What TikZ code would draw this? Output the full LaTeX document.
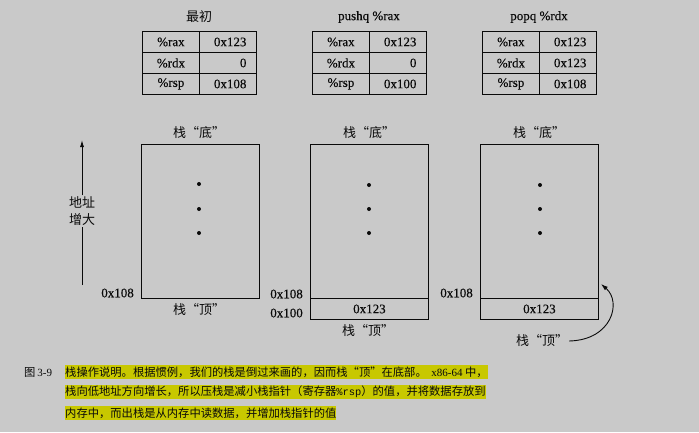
\documentclass[tikz,border=0pt]{standalone}
\usepackage{fontspec}
\setmainfont{Liberation Serif}[FakeBold=0.3]
\setmonofont{Liberation Mono}
\newfontfamily\plainrm{Liberation Serif}
\newfontfamily\cjk{Noto Sans CJK SC}
\usetikzlibrary{arrows.meta}
\definecolor{bg}{RGB}{201,201,201}
\definecolor{hl}{RGB}{200,200,0}
\definecolor{ink}{RGB}{10,10,10}
\tikzset{
  every node/.style={text=ink},
  txt/.style={font=\fontsize{13}{15}\selectfont, inner sep=1pt},
  cjklab/.style={font=\cjk\fontsize{13}{17}\selectfont, inner sep=1pt},
  cellk/.style={draw=ink, line width=0.9pt, minimum width=57pt, minimum height=21pt,
    inner sep=0pt, anchor=north west, font=\fontsize{13}{15}\selectfont},
  cellv/.style={draw=ink, line width=0.9pt, text width=37pt, inner xsep=10pt, inner ysep=0pt,
    minimum height=21pt, align=right, anchor=north west, font=\fontsize{13}{15}\selectfont},
  stackbox/.style={draw=ink, line width=0.9pt, minimum width=118pt, minimum height=154pt,
    inner sep=0pt, anchor=north west},
  stackcell/.style={draw=ink, line width=0.9pt, minimum width=118pt, minimum height=21pt,
    inner sep=0pt, anchor=north west, font=\fontsize{13}{15}\selectfont},
  dotmark/.style={circle, fill=ink, inner sep=0pt, minimum size=4pt},
  capline/.style={anchor=west, fill=hl, inner xsep=0pt, inner ysep=1.5pt,
    font=\cjk\fontsize{11.3}{13}\selectfont},
  conn/.style={draw=ink, line width=0.9pt},
}
\begin{document}
\begin{tikzpicture}[x=1pt,y=-1pt]
\fill[bg] (0,0) rectangle (699,432);
\useasboundingbox (0,0) rectangle (699,432);

% register tables
\node[cjklab] (h1) at (199,17) {最初};
\node[txt] (h2) at (369,17) {pushq \%rax};
\node[txt] (h3) at (539,17) {popq \%rdx};
\foreach \n/\x/\a/\b/\c in {1/142/0x123/0/0x108, 2/312/0x123/0/0x100, 3/482/0x123/0x123/0x108}{
  \node[cellk] (t\n k1) at (\x,31) {\%rax};
  \node[cellk] (t\n k2) at (\x,52) {\%rdx};
  \node[cellk] (t\n k3) at (\x,73) {\%rsp};
  \node[cellv] (t\n v1) at (\x+57,31) {\a};
  \node[cellv] (t\n v2) at (\x+57,52) {\b};
  \node[cellv] (t\n v3) at (\x+57,73) {\c};
}

% address arrow
\node[cjklab, align=center, fill=bg] (inc) at (82,211) {地址\\增大};
\coordinate (ab) at (82,285);
\coordinate (at) at (82,140);
\draw[conn] (ab) -- (inc);
\draw[conn, -{Latex[length=7pt,width=4pt]}] (inc) -- (at);

% stack 1
\node[stackbox] (s1) at (141,144) {};
\node[cjklab] (bt1) at (199,133) {栈“底”};
\node[dotmark] (d11) at (199,184) {};
\node[dotmark] (d12) at (199,209) {};
\node[dotmark] (d13) at (199,233) {};
\node[cjklab] (tp1) at (199,310) {栈“顶”};
\node[txt, anchor=east] (a1) at (135,293) {0x108};

% stack 2
\node[stackbox] (s2) at (310,144) {};
\node[stackcell] (c2) at (310,298) {0x123};
\node[cjklab] (bt2) at (369,133) {栈“底”};
\node[dotmark] (d21) at (369,185) {};
\node[dotmark] (d22) at (369,209) {};
\node[dotmark] (d23) at (369,233) {};
\node[cjklab] (tp2) at (368,331) {栈“顶”};
\node[txt, anchor=east] (a21) at (304,294) {0x108};
\node[txt, anchor=east] (a22) at (304,313) {0x100};

% stack 3
\node[stackbox] (s3) at (480,144) {};
\node[stackcell] (c3) at (480,298) {0x123};
\node[cjklab] (bt3) at (539,133) {栈“底”};
\node[dotmark] (d31) at (540,185) {};
\node[dotmark] (d32) at (540,209) {};
\node[dotmark] (d33) at (540,233) {};
\node[cjklab] (tp3) at (542,341) {栈“顶”};
\node[txt, anchor=east] (a3) at (474,293) {0x108};
\coordinate (pt3) at (601,284);
\draw[conn, -{Latex[length=7pt,width=4.5pt]}] (tp3.east) .. controls (612,340) and (622,302) .. (pt3);

% caption
\node[font=\cjk\fontsize{11.3}{13}\selectfont, anchor=west, inner sep=0pt] (fig) at (24,372) {图\,{\plainrm\fontsize{11}{12}\selectfont 3-9}};
\node[capline] (l1) at (65,372) {栈操作说明。根据惯例，我们的栈是倒过来画的，因而栈“顶”在底部。{\plainrm\fontsize{11}{12}\selectfont\, x86-64} 中，};
\node[capline] (l2) at (65,392) {栈向低地址方向增长，所以压栈是减小栈指针（寄存器{\ttfamily\fontsize{10.4}{12}\selectfont\%rsp}）的值，并将数据存放到};
\node[capline] (l3) at (65,413) {内存中，而出栈是从内存中读数据，并增加栈指针的值};
\end{tikzpicture}
\end{document}
